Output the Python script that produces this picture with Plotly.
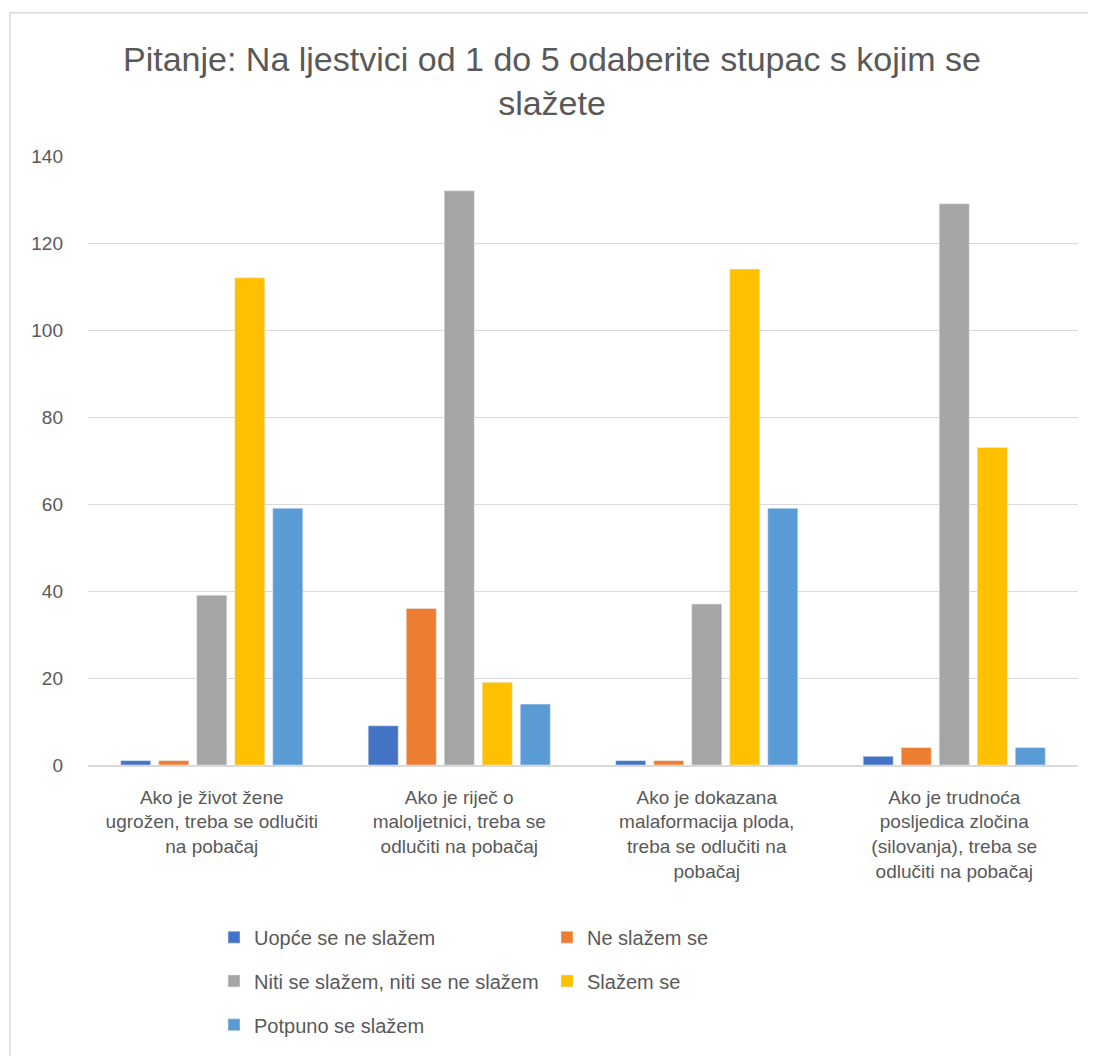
import plotly.graph_objects as go

categories = [
    "Ako je život žene<br>ugrožen, treba se odlučiti<br>na pobačaj",
    "Ako je riječ o<br>maloljetnici, treba se<br>odlučiti na pobačaj",
    "Ako je dokazana<br>malaformacija ploda,<br>treba se odlučiti na<br>pobačaj",
    "Ako je trudnoća<br>posljedica zločina<br>(silovanja), treba se<br>odlučiti na pobačaj",
]
series_names = [
    "Uopće se ne slažem",
    "Ne slažem se",
    "Niti se slažem, niti se ne slažem",
    "Slažem se",
    "Potpuno se slažem",
]
uopce = [1, 9, 1, 2]
ne_slazem = [1, 36, 1, 4]
niti = [39, 132, 37, 129]
slazem = [112, 19, 114, 73]
potpuno = [59, 14, 59, 4]
colors = ["#4472C4", "#ED7D31", "#A5A5A5", "#FFC000", "#5B9BD5"]
y_ticks = [0, 20, 40, 60, 80, 100, 120, 140]

# page body has an 8px margin, so the figure is a bit smaller than the window
OFF = 8
W, H = 1088, 1048
L, R, T, B = 80, 18, 148, 288
pw, ph = W - L - R, H - T - B

def px_x(p):
    return (p - OFF - L) / pw

def px_y(p):
    return (H - B - (p - OFF)) / ph

font = "Liberation Sans, Arial, sans-serif"
grey_text = "#595959"

fig = go.Figure()
legend_of = ["legend", "legend", "legend2", "legend2", "legend3"]
for name, vals, col, lg in zip(series_names, [uopce, ne_slazem, niti, slazem, potpuno], colors, legend_of):
    fig.add_bar(x=categories, y=vals, name=name, marker_color=col, legend=lg)

leg_common = dict(orientation="h", entrywidth=288, entrywidthmode="pixels",
                  font=dict(family=font, size=20, color=grey_text),
                  bgcolor="rgba(0,0,0,0)", xanchor="left", yanchor="middle",
                  itemwidth=30, traceorder="normal")

fig.update_layout(
    width=W, height=H,
    margin=dict(l=L, r=R, t=T, b=B),
    paper_bgcolor="white", plot_bgcolor="white",
    barmode="group", bargap=0.232, bargroupgap=0.21,
    title=dict(text="Pitanje: Na ljestvici od 1 do 5 odaberite stupac s kojim se<br>slažete",
               x=0.5, xanchor="center", y=1 - (71 - OFF) / H, yanchor="middle",
               font=dict(family=font, size=34, color=grey_text)),
    legend=dict(x=px_x(214), y=px_y(941), **leg_common),
    legend2=dict(x=px_x(214), y=px_y(985), **leg_common),
    legend3=dict(x=px_x(214), y=px_y(1029), **leg_common),
    xaxis=dict(showgrid=False, showline=True, linecolor="#D9D9D9", linewidth=1.5,
               tickfont=dict(family=font, size=19, color=grey_text), ticks="",
               ticklabelstandoff=14),
    yaxis=dict(range=[0, 140], tickvals=y_ticks, showgrid=True, gridcolor="#D9D9D9",
               gridwidth=1, zeroline=False, showline=False, ticks="",
               ticklabelstandoff=24,
               tickfont=dict(family=font, size=19, color=grey_text)),
    shapes=[dict(type="rect", xref="paper", yref="paper",
                 x0=px_x(10), x1=px_x(1110), y0=px_y(1070), y1=px_y(12),
                 line=dict(color="#D9D9D9", width=1.5), fillcolor="rgba(0,0,0,0)", layer="below")],
)

fig.write_html("out.html")
